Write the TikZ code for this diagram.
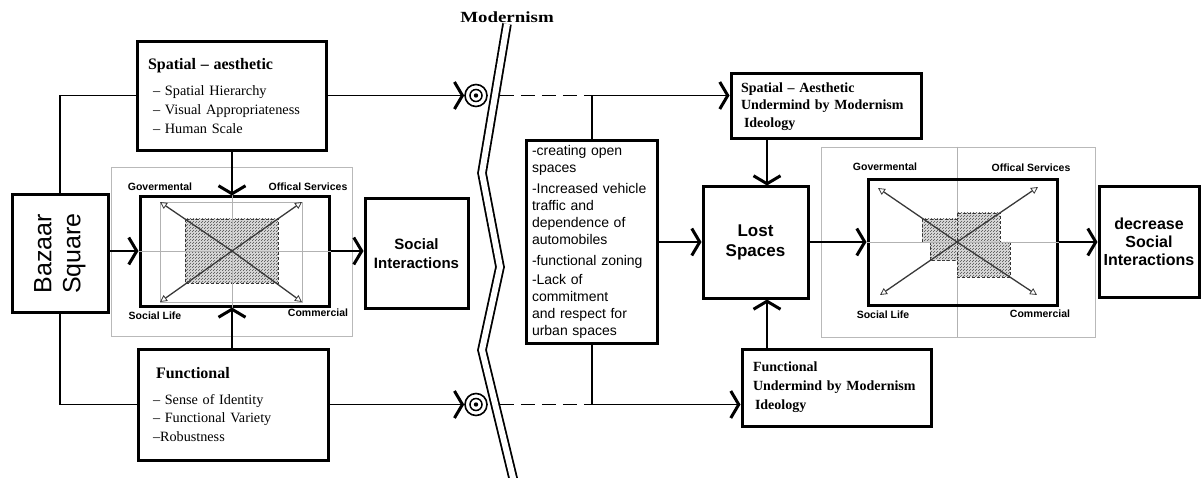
\documentclass[tikz,border=0pt]{standalone}
\usepackage{fontspec}
\usepackage{graphicx}
\setmainfont{Liberation Serif}
\setsansfont{Liberation Sans}
\usetikzlibrary{arrows.meta,patterns}
\newcommand\fsz[2]{\fontsize{#1}{#2}\selectfont}
\begin{document}
\begin{tikzpicture}[x=1pt,y=-1pt,
  box/.style={draw,line width=3pt,inner sep=0pt},
  conn/.style={line width=1.4pt},
  barb/.style={-{Straight Barb[length=8pt,width=27pt,line width=3pt]}},
  graybox/.style={draw=gray!55,line width=0.8pt,inner sep=0pt},
  grayline/.style={draw=gray!60,line width=0.8pt},
  quadarrow/.style={draw=gray!45!black,line width=1.3pt,-{Triangle[open,length=7pt,width=7pt,line width=0.8pt]}},
  hatch/.style={fill=gray!25,postaction={pattern=north east lines,pattern color=gray!60!black},draw=gray!40!black,line width=0.6pt,densely dashed},
  quad/.style={font=\sffamily\bfseries\fsz{10.5}{12},inner sep=0pt},
  serifbox/.style={box,align=left,font=\rmfamily\fsz{14.3}{19}},
  undbox/.style={box,align=left,font=\rmfamily\bfseries\fsz{14}{17.5}},
  sansbox/.style={box,align=center,font=\sffamily\bfseries}]
\useasboundingbox (0,0) rectangle (1201,478);

% ---------- left part ----------
\node[graybox,minimum width=241pt,minimum height=169pt] (lgray) at (231.5,251.5) {};
\coordinate (lc) at (232,251);
\draw[grayline] (160,202) rectangle (302,302);
\path[hatch] (185,219) rectangle (278,283);
\node[box,minimum width=189pt,minimum height=109pt] (linner) at (234.5,251.5) {};
\draw[grayline] (lc |- linner.north) -- (lc |- linner.south);
\draw[grayline] (lc -| linner.west) -- (lc -| linner.east);
\draw[quadarrow] (lc) -- (160,202);
\draw[quadarrow] (lc) -- (302,202);
\draw[quadarrow] (lc) -- (160,302);
\draw[quadarrow] (lc) -- (302,302);
\node[quad] (lq1) at (160,187) {Govermental};
\node[quad] (lq2) at (308,187) {Offical Services};
\node[quad] (lq3) at (155,316) {Social Life};
\node[quad] (lq4) at (318,313) {Commercial};

\node[serifbox,minimum width=189pt,minimum height=109pt,text width=167pt,inner xsep=11pt] (spa) at (231.5,96.5)
  {{\bfseries\fsz{16}{19}Spatial – aesthetic}\\[7pt]
   \hspace*{5pt}– Spatial Hierarchy\\
   \hspace*{5pt}– Visual Appropriateness\\
   \hspace*{5pt}– Human Scale};
\node[serifbox,minimum width=190pt,minimum height=111pt,text width=160pt,inner xsep=15pt,font=\rmfamily\fsz{14.2}{18.5}] (fun) at (233,404.5)
  {\hspace*{3pt}{\bfseries\fsz{16}{18.5}Functional}\\[7pt]
   – Sense of Identity\\
   – Functional Variety\\
   –Robustness};
\node[box,minimum width=96pt,minimum height=117pt] (baz) at (60,253.5)
  {\rotatebox{90}{\sffamily\fsz{25}{29}\begin{tabular}{@{}c@{}}Bazaar\\Square\end{tabular}}};
\node[sansbox,minimum width=103pt,minimum height=109pt,font=\sffamily\bfseries\fsz{15}{19}] (soc) at (416.5,253.5) {Social\\Interactions};

\draw[conn] (spa.west |- 0,95.5) -| (baz.north);
\draw[conn] (baz.south) |- (fun.west);
\draw[conn,barb] (baz.east |- lc) -- (linner.west |- lc);
\draw[conn,barb] (linner.east |- lc) -- (soc.west |- lc);
\draw[conn,barb] (spa.south -| lc) -- (linner.north -| lc);
\draw[conn,barb] (fun.north -| lc) -- (linner.south -| lc);

% ---------- modernism ----------
\node[circle,draw,line width=1.6pt,minimum size=22pt,inner sep=0pt] (t1) at (476,95.5) {};
\draw[line width=1.5pt] (t1) circle (6pt);
\fill (t1) circle (2.2pt);
\node[circle,draw,line width=1.6pt,minimum size=22pt,inner sep=0pt] (t2) at (476,404.5) {};
\draw[line width=1.5pt] (t2) circle (6pt);
\fill (t2) circle (2.2pt);
\draw[conn,barb] (spa.east |- t1) -- (t1.west);
\draw[conn,barb] (fun.east) -- (t2.west);

\coordinate (j1) at (592,95.5);
\coordinate (j2) at (592,404.5);
\draw[conn,dash pattern=on 14pt off 7pt] ([xshift=12pt]t1.east) -- (j1);
\draw[conn,dash pattern=on 14pt off 7pt] ([xshift=12pt]t2.east) -- (j2);

\draw[line width=1.8pt,double=white,double distance=6pt] (507,24) -- (482,173) -- (500,267) -- (482,350) -- (514,482);
\node[font=\rmfamily\bfseries,inner sep=0pt] (mod) at (507,17) {\scalebox{1.22}[1]{\fsz{15.5}{17}Modernism}};

% ---------- middle ----------
\node[box,align=left,minimum width=131pt,minimum height=202pt,text width=119pt,inner xsep=6pt,font=\sffamily\fsz{14}{17}] (mid) at (591.5,242)
  {-creating open\\spaces\\[4pt]
   -Increased vehicle\\traffic and\\dependence of\\automobiles\\[4pt]
   -functional zoning\\[2pt]
   -Lack of\\commitment\\and respect for\\urban spaces};
\node[undbox,minimum width=190pt,minimum height=65pt,text width=170pt,inner xsep=10pt] (sau) at (826,106.5)
  {Spatial – Aesthetic\\Undermind by Modernism\\\hspace*{3pt}Ideology};
\node[undbox,minimum width=189pt,minimum height=77pt,text width=167pt,inner xsep=11pt,font=\rmfamily\bfseries\fsz{14}{19}] (fau) at (836.5,387.5)
  {Functional\\Undermind by Modernism\\\hspace*{2pt}Ideology};
\node[sansbox,minimum width=105pt,minimum height=111pt,font=\sffamily\bfseries\fsz{17}{20}] (lost) at (755.5,242.5) {Lost\\Spaces};

\draw[conn] (j1) -- (j1 |- mid.north);
\draw[conn] (j2 |- mid.south) -- (j2);
\draw[conn,barb] (j1) -- (j1 -| sau.west);
\draw[conn,barb] (j2) -- (j2 -| fau.west);
\draw[conn,barb] (mid.east) -- (mid.east -| lost.west);
\coordinate (lx) at (767,242);
\draw[conn,barb] (lx |- sau.south) -- (lx |- lost.north);
\draw[conn,barb] (lx |- fau.north) -- (lx |- lost.south);

% ---------- right part ----------
\node[graybox,minimum width=274pt,minimum height=190pt] (rgray) at (958,242) {};
\coordinate (rc) at (957,242);
\draw[grayline] (rc |- rgray.north) -- (rc |- rgray.south);
\path[hatch] (922,219) rectangle (957,242);
\path[hatch] (957,213) rectangle (1000,242);
\path[hatch] (930,242) rectangle (957,260);
\path[hatch] (957,242) rectangle (1010,277);
\node[box,minimum width=189pt,minimum height=125pt] (rinner) at (962.5,242.5) {};
\draw[grayline] (rc -| rinner.west) -- (rc -| rinner.east);
\draw[quadarrow] (rc) -- (878,188);
\draw[quadarrow] (rc) -- (1038,187);
\draw[quadarrow] (rc) -- (880,295);
\draw[quadarrow] (rc) -- (1037,295);
\node[quad] (rq1) at (885,167) {Govermental};
\node[quad] (rq2) at (1031,168) {Offical Services};
\node[quad] (rq3) at (883,315) {Social Life};
\node[quad] (rq4) at (1040,314) {Commercial};
\node[sansbox,minimum width=100pt,minimum height=110pt,font=\sffamily\bfseries\fsz{16}{18}] (dec) at (1149,242) {decrease\\Social\\Interactions};

\draw[conn,barb] (lost.east |- rc) -- (rinner.west |- rc);
\draw[conn,barb] (rinner.east |- rc) -- (dec.west |- rc);
\end{tikzpicture}
\end{document}
